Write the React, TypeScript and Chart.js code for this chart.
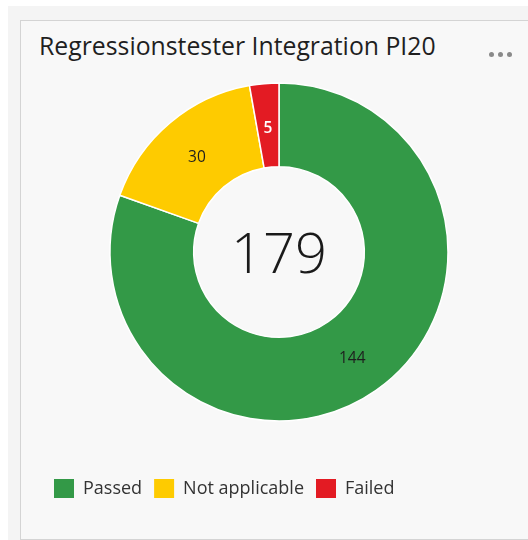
import React, { useEffect, useRef } from "react";
import { Chart, registerables } from "chart.js";

Chart.register(...registerables);

const TITLE = "Regressionstester Integration PI20";
const categories = ["Passed", "Not applicable", "Failed"];
const values = [144, 30, 5];
const colors = ["#339947", "#fecb00", "#e31b23"];
const labelColors = ["#1e1e1e", "#1e1e1e", "#ffffff"];
const total = values.reduce((a, b) => a + b, 0);

const FONT = "'Open Sans', 'Noto Sans', sans-serif";

const sliceLabels = {
  id: "sliceLabels",
  afterDatasetsDraw(chart: any) {
    const ctx = chart.ctx;
    const meta = chart.getDatasetMeta(0);
    ctx.save();
    ctx.textAlign = "center";
    ctx.textBaseline = "middle";
    meta.data.forEach((arc: any, i: number) => {
      const p = arc.tooltipPosition();
      ctx.font = (i === 2 ? "600 " : "400 ") + "15.5px " + FONT;
      ctx.fillStyle = labelColors[i];
      ctx.fillText(String(values[i]), p.x, p.y + 3);
    });
    ctx.restore();
  },
};

export default function App() {
  const ref = useRef<HTMLCanvasElement>(null);
  useEffect(() => {
    if (!ref.current) return;
    const chart = new Chart(ref.current, {
      type: "doughnut",
      data: {
        labels: categories,
        datasets: [
          {
            data: values,
            backgroundColor: colors,
            borderColor: "#ffffff",
            borderWidth: 1.5,
            radius: 169,
            cutout: "50.5%",
          } as any,
        ],
      },
      options: {
        responsive: false,
        animation: false,
        layout: { padding: { left: 42, right: 12, top: 37, bottom: 32 } },
        plugins: {
          tooltip: { enabled: false },
          legend: {
            position: "bottom",
            align: "start",
            labels: {
              boxWidth: 20,
              boxHeight: 19,
              padding: 12,
              color: "#333333",
              font: { family: FONT, size: 18 },
              generateLabels: (c: any) => {
                const data = c.data;
                const ds = data.datasets[0];
                return data.labels.map((label: string, i: number) => ({
                  text: label,
                  fillStyle: ds.backgroundColor[i],
                  strokeStyle: ds.backgroundColor[i],
                  lineWidth: 0,
                  fontColor: "#333333",
                  hidden: false,
                  index: i,
                }));
              },
            },
          },
        },
      },
      plugins: [sliceLabels],
    });
    return () => chart.destroy();
  }, []);

  return (
    <div style={{ position: "fixed", left: 0, top: 0, width: 528, height: 540, overflow: "hidden", background: "#ffffff" }}>
      <div style={{ position: "absolute", left: 8, top: 6, width: 540, height: 540, background: "#f4f4f4" }} />
      <div
        style={{
          position: "absolute",
          left: 20,
          top: 20,
          width: 540,
          height: 518,
          background: "#f8f8f8",
          border: "1px solid #d4d4d4",
        }}
      />
      <div
        style={{
          position: "absolute",
          left: 39,
          top: 29,
          fontFamily: FONT,
          fontSize: 24.8,
          lineHeight: "32px",
          color: "#1f1f1f",
          whiteSpace: "nowrap",
        }}
      >
        {TITLE}
      </div>
      <div style={{ position: "absolute", left: 489, top: 52, display: "flex", gap: 4 }}>
        {[0, 1, 2].map((i) => (
          <div key={i} style={{ width: 5, height: 5, borderRadius: 3, background: "#8a8a8a" }} />
        ))}
      </div>
      <canvas ref={ref} width={528} height={540} style={{ position: "absolute", left: 0, top: 0 }} />
      <div
        style={{
          position: "absolute",
          left: 179,
          top: 216,
          width: 200,
          textAlign: "center",
          fontFamily: FONT,
          fontWeight: 300,
          fontSize: 56,
          color: "#1a1a1a",
          lineHeight: "70px",
        }}
      >
        {total}
      </div>
    </div>
  );
}
